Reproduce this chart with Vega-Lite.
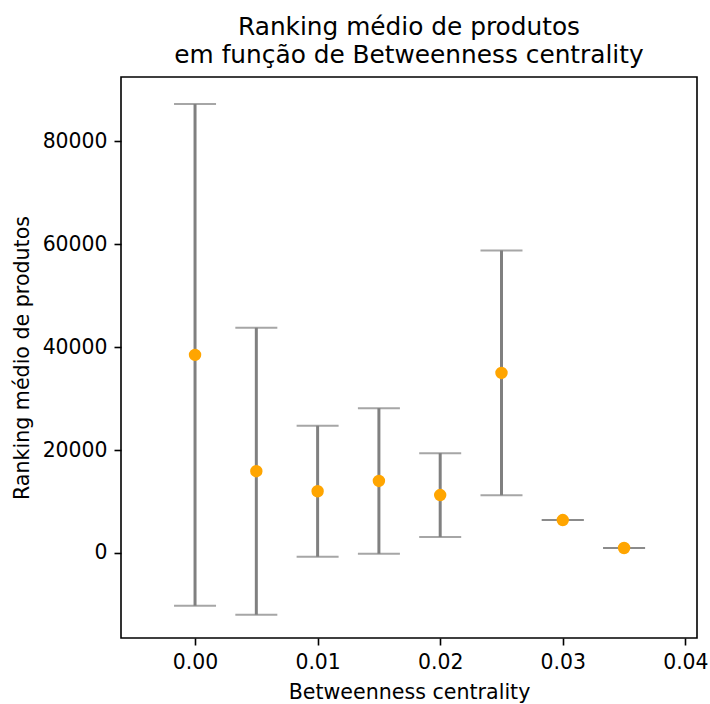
{
  "$schema": "https://vega.github.io/schema/vega-lite/v6.json",
  "width": 576,
  "height": 561,
  "autosize": {"type": "none"},
  "padding": {"left": 121, "top": 77, "right": 13, "bottom": 66},
  "background": "white",
  "config": {
    "font": "DejaVu Sans",
    "view": {"stroke": "black", "strokeWidth": 1.6},
    "axis": {
      "grid": false,
      "domain": false,
      "tickColor": "black",
      "tickWidth": 1.6,
      "tickSize": 7,
      "labelPadding": 7,
      "labelFont": "DejaVu Sans",
      "labelFontSize": 20.4,
      "labelColor": "black",
      "titleFont": "DejaVu Sans",
      "titleFontSize": 20.6,
      "titleFontWeight": "normal",
      "titleColor": "black",
      "labelFlush": false,
      "labelOverlap": false
    }
  },
  "title": {
    "text": ["Ranking médio de produtos", "em função de Betweenness centrality"],
    "font": "DejaVu Sans",
    "fontSize": 24.8,
    "fontWeight": "normal",
    "color": "black",
    "anchor": "middle",
    "frame": "group",
    "lineHeight": 28,
    "baseline": "alphabetic",
    "offset": -11
  },
  "data": {
    "values": [
      {"bc": 0.000, "mean": 38500, "lo": -10250, "hi": 87250},
      {"bc": 0.005, "mean": 15900, "lo": -12000, "hi": 43800},
      {"bc": 0.010, "mean": 12000, "lo": -730, "hi": 24730},
      {"bc": 0.015, "mean": 14000, "lo": -150, "hi": 28150},
      {"bc": 0.020, "mean": 11260, "lo": 3110, "hi": 19410},
      {"bc": 0.025, "mean": 35000, "lo": 11230, "hi": 58800},
      {"bc": 0.030, "mean": 6400, "lo": 6400, "hi": 6400},
      {"bc": 0.035, "mean": 970, "lo": 970, "hi": 970}
    ]
  },
  "encoding": {
    "x": {
      "field": "bc",
      "type": "quantitative",
      "scale": {"domain": [-0.00604, 0.04095], "nice": false, "zero": false},
      "axis": {"values": [0, 0.01, 0.02, 0.03, 0.04], "format": ".2f", "title": "Betweenness centrality", "titlePadding": 10}
    }
  },
  "layer": [
    {
      "mark": {"type": "rule", "color": "#808080", "strokeWidth": 3},
      "encoding": {
        "y": {
          "field": "lo",
          "type": "quantitative",
          "scale": {"domain": [-16521, 92517], "nice": false, "zero": false},
          "axis": {"values": [0, 20000, 40000, 60000, 80000], "format": "d", "title": "Ranking médio de produtos", "titlePadding": 10}
        },
        "y2": {"field": "hi"}
      }
    },
    {
      "mark": {"type": "tick", "color": "#808080", "orient": "horizontal", "size": 42, "thickness": 2},
      "encoding": {"y": {"field": "lo", "type": "quantitative"}}
    },
    {
      "mark": {"type": "tick", "color": "#808080", "orient": "horizontal", "size": 42, "thickness": 2},
      "encoding": {"y": {"field": "hi", "type": "quantitative"}}
    },
    {
      "mark": {"type": "point", "filled": true, "shape": "circle", "color": "#FFA500", "opacity": 1, "size": 154},
      "encoding": {"y": {"field": "mean", "type": "quantitative"}}
    }
  ]
}
